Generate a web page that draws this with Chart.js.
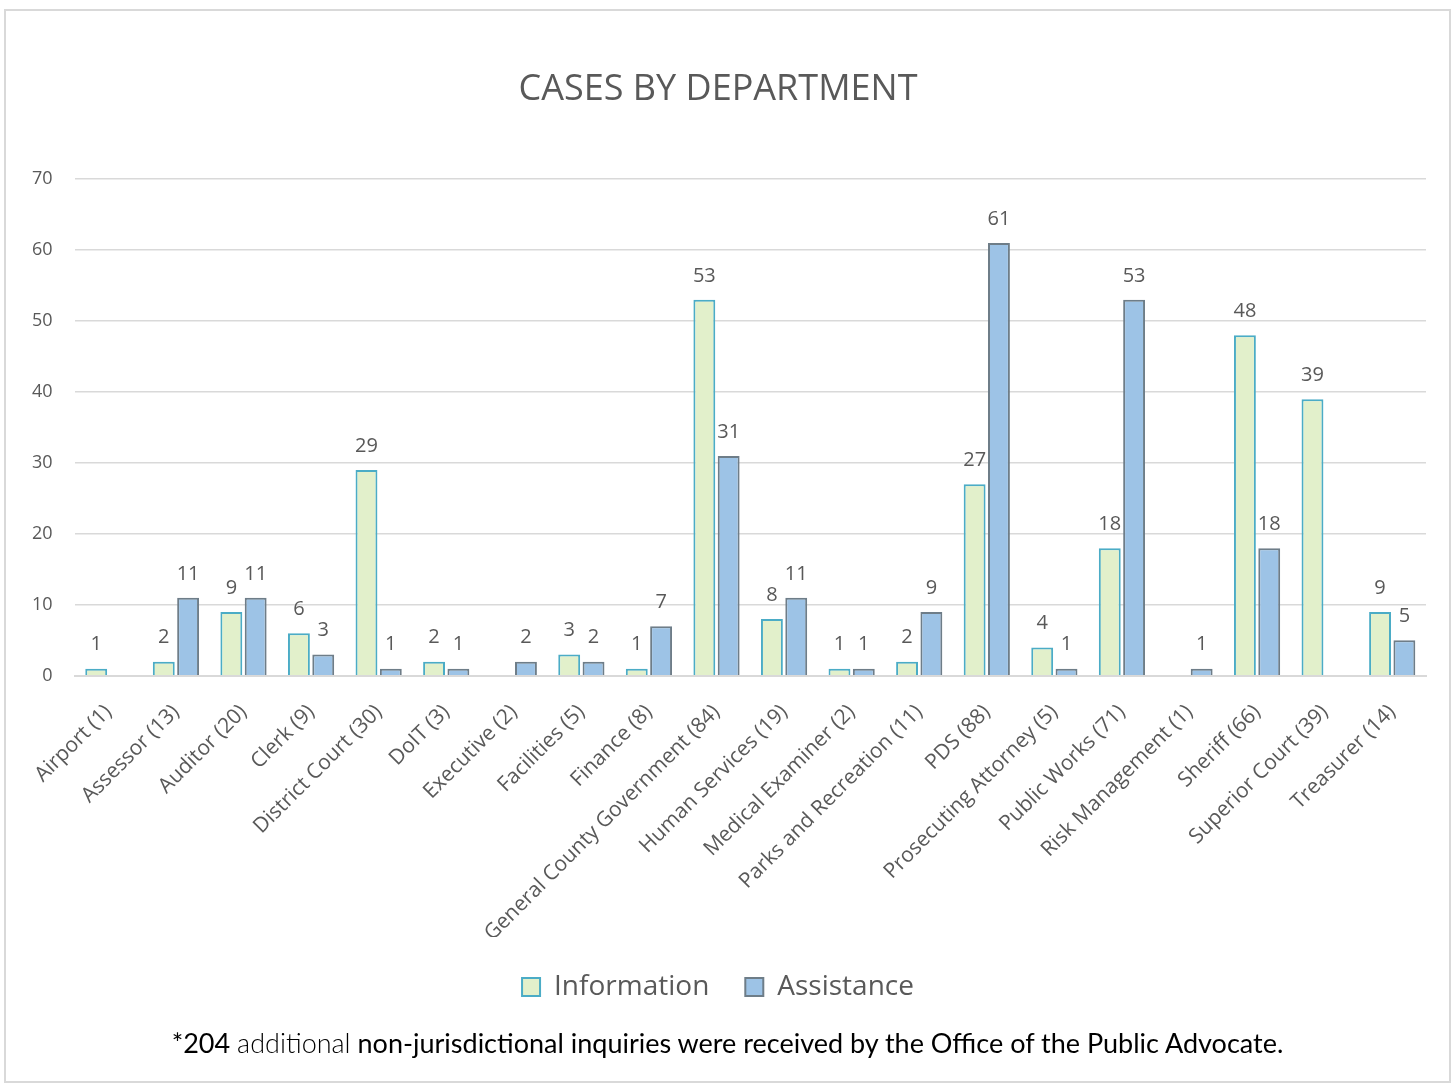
<!DOCTYPE html>
<html>
<head>
<meta charset="utf-8">
<script src="https://cdn.jsdelivr.net/npm/chart.js@4"></script>
<style>
  html, body { margin: 0; padding: 0; background: #fff; }
  #wrap { position: absolute; left: 0; top: 0; width: 1455px; height: 1085px; }
  #frame { position: absolute; left: 4px; top: 9px; width: 1447px; height: 1074px; border: 2px solid #d9d9d9; box-sizing: border-box; }
  #chartbox { position: absolute; left: 0; top: 0; width: 1455px; height: 1085px; }
  #note { position: absolute; left: 0; width: 1455px; top: 1026px; text-align: center;
          font-family: Lato, "Open Sans", sans-serif; font-size: 27px; color: #000; }
  #note .light { font-weight: 300; }
</style>
</head>
<body>
<div id="wrap">
  <div id="frame"></div>
  <div id="chartbox"><canvas id="c"></canvas></div>
  <div id="note">*204 <span class="light">additional</span> non-jurisdictional inquiries were received by the Office of the Public Advocate.</div>
</div>
<script>
const categories = ["Airport (1)", "Assessor (13)", "Auditor (20)", "Clerk (9)", "District Court (30)", "DoIT (3)",
  "Executive (2)", "Facilities (5)", "Finance (8)", "General County Government (84)", "Human Services (19)",
  "Medical Examiner (2)", "Parks and Recreation (11)", "PDS (88)", "Prosecuting Attorney (5)", "Public Works (71)",
  "Risk Management (1)", "Sheriff (66)", "Superior Court (39)", "Treasurer (14)"];
const informationValues = [1, 2, 9, 6, 29, 2, null, 3, 1, 53, 8, 1, 2, 27, 4, 18, null, 48, 39, 9];
const assistanceValues = [null, 11, 11, 3, 1, 1, 2, 2, 7, 31, 11, 1, 9, 61, 1, 53, 1, 18, null, 5];
const yTicks = [0, 10, 20, 30, 40, 50, 60, 70];
const chartTitle = "CASES BY DEPARTMENT";

const FONT = '"Open Sans", Lato, sans-serif';
const GREY = '#595959';

const valueLabels = {
  id: 'valueLabels',
  afterDatasetsDraw(chart) {
    const ctx = chart.ctx;
    ctx.save();
    ctx.font = '20px ' + FONT;
    ctx.fillStyle = GREY;
    ctx.textAlign = 'center';
    ctx.textBaseline = 'bottom';
    chart.data.datasets.forEach((ds, i) => {
      const meta = chart.getDatasetMeta(i);
      meta.data.forEach((el, j) => {
        const v = ds.data[j];
        if (v === null || v === undefined) return;
        ctx.fillText(String(v), el.x, el.y - 14);
      });
    });
    ctx.restore();
  }
};

new Chart(document.getElementById('c'), {
  type: 'bar',
  data: {
    labels: categories,
    datasets: [
      { label: 'Information', data: informationValues, backgroundColor: '#e2f0cb', borderColor: '#4bacc6', borderWidth: 2,
        barPercentage: 0.9, categoryPercentage: 0.72 },
      { label: 'Assistance', data: assistanceValues, backgroundColor: '#9dc3e6', borderColor: '#6e7d88', borderWidth: 2,
        barPercentage: 0.9, categoryPercentage: 0.72 }
    ]
  },
  options: {
    responsive: true,
    maintainAspectRatio: false,
    animation: false,
    layout: { padding: { left: 10, right: 29, top: 0, bottom: 74 } },
    scales: {
      x: {
        afterFit(scale) { scale.height -= 33; },
        grid: { display: false, drawTicks: false },
        border: { display: true, color: '#d9d9d9', width: 2 },
        ticks: { color: GREY, font: { family: FONT, size: 21 }, minRotation: 45, maxRotation: 45, autoSkip: false, padding: 24 }
      },
      y: {
        min: 0, max: 70,
        afterBuildTicks(axis) { axis.ticks = yTicks.map(v => ({ value: v })); },
        grid: { color: '#d9d9d9', lineWidth: 1.5, drawTicks: false },
        border: { display: false },
        ticks: { color: GREY, font: { family: FONT, size: 18 }, padding: 22 }
      }
    },
    plugins: {
      title: { display: true, text: chartTitle, color: GREY, font: { family: FONT, size: 36, weight: 'normal' },
               padding: { top: 68, bottom: 68 } },
      legend: { position: 'bottom',
        labels: { color: GREY, font: { family: FONT, size: 28 }, boxWidth: 18, boxHeight: 18, padding: 36 } },
      tooltip: { enabled: false }
    }
  },
  plugins: [valueLabels]
});
</script>
</body>
</html>
